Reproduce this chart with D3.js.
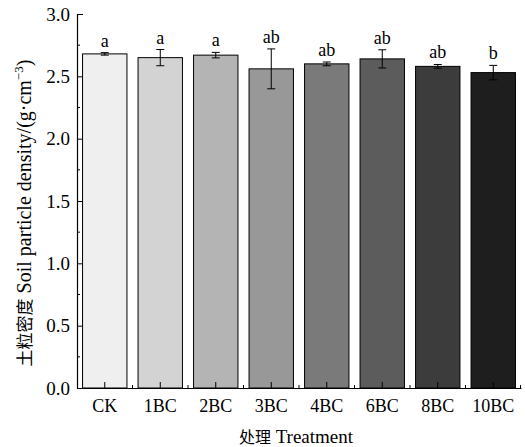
<!DOCTYPE html>
<html>
<head>
<meta charset="utf-8">
<script src="https://cdn.jsdelivr.net/npm/d3@7"></script>
<style>
	body { margin: 0; background: #fff; }
	text { font-family: "Liberation Serif", "Noto Sans CJK SC", serif; fill: #000; }
</style>
</head>
<body>
<svg id="chart" width="525" height="447"></svg>
<script>
	// values
	const treatments = ["CK", "1BC", "2BC", "3BC", "4BC", "6BC", "8BC", "10BC"];
	const density = [2.68, 2.65, 2.67, 2.56, 2.60, 2.64, 2.58, 2.53];
	const errs = [0.01, 0.065, 0.022, 0.16, 0.015, 0.073, 0.015, 0.058];
	const letters = ["a", "a", "a", "ab", "ab", "ab", "ab", "b"];
	const fills = ["#efefef", "#d3d3d3", "#b4b4b4", "#989898", "#7a7a7a", "#5c5c5c", "#3c3c3c", "#1e1e1e"];
	const yTicks = [0, 0.5, 1.0, 1.5, 2.0, 2.5, 3.0];

	const mLeft = 77, mRight = 521, mTop = 14, mBottom = 388;
	const svg = d3.select("#chart");

	const x = d3.scaleBand().domain(treatments).range([mLeft, mRight]).paddingInner(0.2).paddingOuter(0.1);
	const y = d3.scaleLinear().domain([0, 3]).range([mBottom, mTop]);

	// bars
	svg.selectAll("rect.bar").data(treatments).enter().append("rect")
		.attr("class", "bar")
		.attr("x", d => x(d))
		.attr("y", (d, i) => y(density[i]))
		.attr("width", x.bandwidth())
		.attr("height", (d, i) => y(0) - y(density[i]))
		.attr("fill", (d, i) => fills[i])
		.attr("stroke", "#000")
		.attr("stroke-width", 1);

	// error bars
	const eb = svg.selectAll("g.err").data(treatments).enter().append("g").attr("class", "err")
		.attr("stroke", "#000").attr("stroke-width", 1);
	eb.append("line")
		.attr("x1", d => x(d) + x.bandwidth() / 2).attr("x2", d => x(d) + x.bandwidth() / 2)
		.attr("y1", (d, i) => y(density[i] + errs[i])).attr("y2", (d, i) => y(density[i] - errs[i]));
	eb.append("line")
		.attr("x1", d => x(d) + x.bandwidth() / 2 - 4).attr("x2", d => x(d) + x.bandwidth() / 2 + 4)
		.attr("y1", (d, i) => y(density[i] + errs[i])).attr("y2", (d, i) => y(density[i] + errs[i]));
	eb.append("line")
		.attr("x1", d => x(d) + x.bandwidth() / 2 - 4).attr("x2", d => x(d) + x.bandwidth() / 2 + 4)
		.attr("y1", (d, i) => y(density[i] - errs[i])).attr("y2", (d, i) => y(density[i] - errs[i]));

	// significance letters
	svg.selectAll("text.sig").data(treatments).enter().append("text")
		.attr("class", "sig")
		.attr("x", d => x(d) + x.bandwidth() / 2)
		.attr("y", (d, i) => y(density[i] + errs[i]) - 6)
		.attr("text-anchor", "middle")
		.attr("font-size", 18)
		.text((d, i) => letters[i]);

	// y axis, ticks pointing inward
	const yAxis = svg.append("g").attr("transform", `translate(${mLeft},0)`)
		.call(d3.axisRight(y).tickValues(yTicks).tickFormat(d3.format(".1f")).tickSize(6).tickSizeOuter(0));
	yAxis.selectAll("text").attr("x", -7).attr("text-anchor", "end").attr("font-size", 19)
		.style("font-family", "Liberation Serif");
	// minor ticks
	yAxis.selectAll("line.minor").data(d3.range(0.25, 3, 0.5)).enter().append("line")
		.attr("class", "minor").attr("x1", 0).attr("x2", 3)
		.attr("y1", d => y(d)).attr("y2", d => y(d)).attr("stroke", "#000");

	// x axis, ticks pointing up
	const xAxis = svg.append("g").attr("transform", `translate(0,${mBottom})`)
		.call(d3.axisTop(x).tickSize(6).tickSizeOuter(0));
	xAxis.selectAll("text").attr("y", 24).attr("font-size", 18)
		.style("font-family", "Liberation Serif");
	const step = x.step();
	const minorX = treatments.slice(0, -1).map(d => x(d) + x.bandwidth() / 2 + step / 2).concat([mRight - 0.5]);
	xAxis.selectAll("line.minor").data(minorX).enter().append("line")
		.attr("class", "minor").attr("x1", d => d).attr("x2", d => d)
		.attr("y1", 0).attr("y2", -3).attr("stroke", "#000");
	svg.selectAll(".domain").attr("stroke", "#000").attr("stroke-width", 1.2);

	// axis titles
	svg.append("text")
		.attr("transform", `translate(31,213) rotate(-90)`)
		.attr("text-anchor", "middle")
		.attr("font-size", 20)
		.html('<tspan style="font-family:\'Noto Sans CJK SC\'" font-size="17">土粒密度</tspan> Soil particle density/(g·cm<tspan dy="-8" font-size="13">−3</tspan><tspan dy="8">)</tspan>');
	svg.append("text")
		.attr("x", 296)
		.attr("y", 443)
		.attr("text-anchor", "middle")
		.attr("font-size", 19)
		.html('<tspan style="font-family:\'Noto Sans CJK SC\'" font-size="16">处理</tspan> Treatment');
</script>
</body>
</html>
